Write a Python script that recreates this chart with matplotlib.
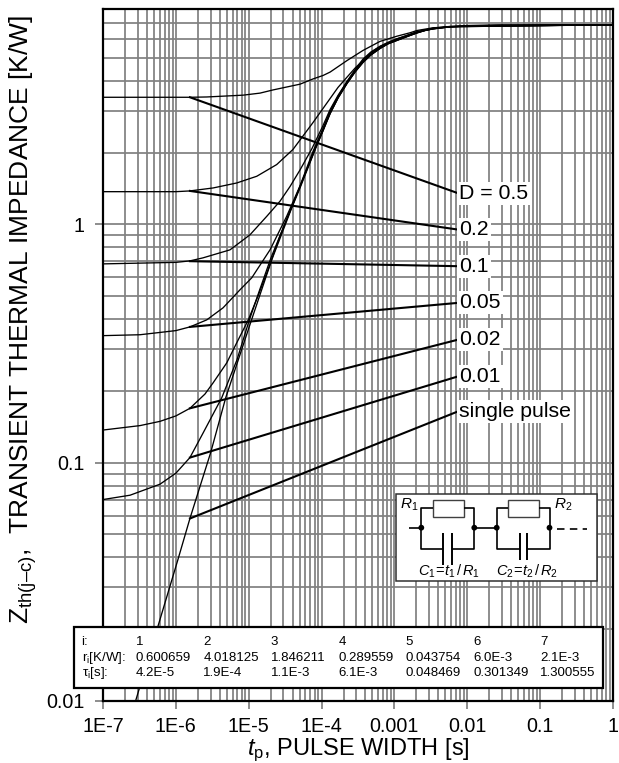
import matplotlib
matplotlib.use("Agg")
import matplotlib.pyplot as plt
from matplotlib.patches import Rectangle, Circle

plt.rcParams["font.family"] = "Liberation Sans"
plt.rcParams["mathtext.fontset"] = "custom"
plt.rcParams["mathtext.rm"] = "Liberation Sans"
plt.rcParams["mathtext.it"] = "Liberation Sans:italic"

# thin curves: pulse width [s], Zth [K/W]
t_d50 = [1e-7, 1.56e-6, 2.65e-6, 8.34e-6, 1.43e-5, 2.15e-5, 3.25e-5, 5.06e-5, 7.62e-5, 1.05e-4, 1.31e-4, 2.23e-4, 3.7e-4, 6.34e-4, 1.08e-3, 1.64e-3, 2.04e-3, 3.38e-3, 9.9e-3, 2.81e-2, 1.0]
z_d50 = [3.41, 3.41, 3.42, 3.48, 3.55, 3.66, 3.76, 3.87, 4.07, 4.21, 4.35, 4.86, 5.36, 5.85, 6.15, 6.36, 6.5, 6.67, 6.82, 6.86, 6.87]

t_d20 = [1e-7, 1.0e-6, 1.56e-6, 3.24e-6, 6.84e-6, 1.29e-5, 2.42e-5, 4.05e-5, 7.62e-5, 1.31e-4, 1.68e-4, 2.31e-4, 2.88e-4, 3.7e-4, 4.76e-4, 6.34e-4, 1.08e-3, 2.04e-3, 3.38e-3, 9.9e-3, 1.0]
z_d20 = [1.37, 1.37, 1.38, 1.42, 1.49, 1.59, 1.78, 2.06, 2.67, 3.37, 3.75, 4.19, 4.52, 4.86, 5.26, 5.57, 5.99, 6.41, 6.63, 6.81, 6.87]

t_d10 = [1e-7, 1.0e-6, 1.56e-6, 2.36e-6, 5.53e-6, 1.04e-5, 1.77e-5, 2.69e-5, 3.69e-5, 5.06e-5, 7.39e-5, 1.05e-4, 1.31e-4, 1.68e-4, 2.23e-4, 2.88e-4, 3.7e-4, 4.76e-4, 6.34e-4, 8.17e-4, 1.08e-3, 1.49e-3, 2.04e-3, 3.38e-3, 5.79e-3, 1.0]
z_d10 = [0.682, 0.692, 0.702, 0.723, 0.781, 0.903, 1.08, 1.25, 1.44, 1.69, 2.08, 2.6, 3.03, 3.47, 3.97, 4.45, 4.93, 5.28, 5.58, 5.8, 6.0, 6.2, 6.42, 6.65, 6.76, 6.87]

t_d05 = [1e-7, 3.22e-7, 1.0e-6, 1.56e-6, 2.65e-6, 4.44e-6, 7.59e-6, 1.1e-5, 1.96e-5, 3.32e-5, 5.06e-5, 7.62e-5, 1.05e-4, 1.31e-4, 1.68e-4, 2.23e-4, 2.88e-4, 3.7e-4, 4.76e-4, 6.34e-4, 8.17e-4, 1.08e-3, 1.49e-3, 2.04e-3, 3.38e-3, 5.79e-3, 1.0]
z_d05 = [0.341, 0.344, 0.358, 0.371, 0.397, 0.446, 0.531, 0.596, 0.781, 1.08, 1.45, 2.02, 2.53, 2.98, 3.44, 3.96, 4.42, 4.84, 5.2, 5.52, 5.76, 5.94, 6.16, 6.38, 6.62, 6.75, 6.87]

t_d02 = [1e-7, 3.22e-7, 6.06e-7, 1.0e-6, 1.56e-6, 2.51e-6, 3.24e-6, 4.99e-6, 6.84e-6, 9.87e-6, 1.34e-5, 1.84e-5, 2.69e-5, 3.89e-5, 5.06e-5, 8.38e-5, 1.05e-4, 1.31e-4, 1.68e-4, 2.23e-4, 2.88e-4, 3.7e-4, 4.76e-4, 6.34e-4, 8.17e-4, 1.08e-3, 1.49e-3, 2.04e-3, 2.62e-3, 3.38e-3, 5.79e-3, 1.0]
z_d02 = [0.137, 0.143, 0.149, 0.157, 0.169, 0.194, 0.216, 0.262, 0.318, 0.397, 0.5, 0.644, 0.895, 1.18, 1.44, 2.12, 2.49, 2.93, 3.4, 3.91, 4.37, 4.79, 5.15, 5.48, 5.73, 5.92, 6.14, 6.36, 6.51, 6.61, 6.74, 6.87]

t_d01 = [1e-7, 2.35e-7, 6.06e-7, 1.0e-6, 1.56e-6, 2.36e-6, 4.26e-6, 6.9e-6, 1.02e-5, 1.43e-5, 2.02e-5, 3.89e-5, 8.38e-5, 1.05e-4, 1.31e-4, 1.68e-4, 2.23e-4, 2.88e-4, 3.7e-4, 4.76e-4, 6.34e-4, 8.17e-4, 1.08e-3, 1.49e-3, 2.04e-3, 2.62e-3, 3.38e-3, 5.79e-3, 1.0]
z_d01 = [0.07, 0.073, 0.0812, 0.0903, 0.105, 0.133, 0.187, 0.27, 0.397, 0.536, 0.723, 1.18, 2.11, 2.48, 2.92, 3.39, 3.9, 4.36, 4.78, 5.14, 5.47, 5.72, 5.91, 6.13, 6.35, 6.5, 6.6, 6.74, 6.87]

t_single = [2.8e-7, 1.06e-6, 1.56e-6, 3.0e-6, 4.83e-6, 1.06e-5, 2.07e-5, 3.89e-5, 5.06e-5, 8.38e-5, 1.05e-4, 1.31e-4, 1.68e-4, 2.23e-4, 2.88e-4, 3.7e-4, 4.76e-4, 6.34e-4, 8.17e-4, 1.08e-3, 1.49e-3, 2.04e-3, 2.62e-3, 3.38e-3, 5.79e-3, 9.9e-3, 2.81e-2, 1.87e-1, 1.0]
z_single = [0.01, 0.0389, 0.0583, 0.11, 0.187, 0.386, 0.709, 1.17, 1.42, 2.1, 2.47, 2.91, 3.38, 3.89, 4.35, 4.77, 5.13, 5.46, 5.71, 5.9, 6.13, 6.35, 6.5, 6.6, 6.74, 6.78, 6.84, 6.87, 6.87]

# thick straight parts, from the knee to the label
t_knee = 1.56e-6
t_end = 7.45e-3
z_knee = [3.41, 1.38, 0.70, 0.371, 0.169, 0.105, 0.0583]
z_end = [1.35, 0.95, 0.667, 0.468, 0.328, 0.23, 0.164]
d_labels = ["D = 0.5", "0.2", "0.1", "0.05", "0.02", "0.01", "single pulse"]

x_ticks = [1e-7, 1e-6, 1e-5, 1e-4, 1e-3, 1e-2, 1e-1, 1]
x_ticklabels = ["1E-7", "1E-6", "1E-5", "1E-4", "0.001", "0.01", "0.1", "1"]
y_ticks = [0.01, 0.1, 1]
y_ticklabels = ["0.01", "0.1", "1"]

# foster table
table_head = ["i:", "r$_{\\mathrm{i}}$[K/W]:", "τ$_{\\mathrm{i}}$[s]:"]
table_i = ["1", "2", "3", "4", "5", "6", "7"]
table_r = ["0.600659", "4.018125", "1.846211", "0.289559", "0.043754", "6.0E-3", "2.1E-3"]
table_tau = ["4.2E-5", "1.9E-4", "1.1E-3", "6.1E-3", "0.048469", "0.301349", "1.300555"]

W, H = 619, 763
fig = plt.figure(figsize=(W / 100, H / 100), dpi=100)
ax = fig.add_axes([103 / W, 1 - 701 / H, 510 / W, 692 / H])
ax.set_xscale("log")
ax.set_yscale("log")
ax.set_xlim(1e-7, 1)
ax.set_ylim(0.01, 8)

ax.set_axisbelow(True)
ax.grid(which="both", color="#808080", linewidth=1.25)
ax.minorticks_on()
ax.xaxis.set_minor_locator(matplotlib.ticker.LogLocator(10, subs=range(2, 10), numticks=12))
ax.yaxis.set_minor_locator(matplotlib.ticker.LogLocator(10, subs=range(2, 10), numticks=12))
ax.xaxis.set_minor_formatter(matplotlib.ticker.NullFormatter())
ax.yaxis.set_minor_formatter(matplotlib.ticker.NullFormatter())
ax.set_xticks(x_ticks)
ax.set_xticklabels(x_ticklabels)
ax.set_yticks(y_ticks)
ax.set_yticklabels(y_ticklabels)
ax.tick_params(which="major", length=5.8, width=1.25, color="#808080", labelsize=14.2, pad=6)
ax.tick_params(axis="y", pad=7.5)
ax.tick_params(which="minor", length=0)

for s in ax.spines.values():
    s.set_linewidth(1.6)
    s.set_color("black")
    s.set_zorder(6)

thin = [(t_d50, z_d50), (t_d20, z_d20), (t_d10, z_d10), (t_d05, z_d05), (t_d02, z_d02), (t_d01, z_d01), (t_single, z_single)]
for t, z in thin:
    ax.plot(t, z, color="black", linewidth=0.95, zorder=3, solid_joinstyle="round")

for z0, z1, lab in zip(z_knee, z_end, d_labels):
    ax.plot([t_knee, t_end], [z0, z1], color="black", linewidth=1.5, zorder=4)
    ax.text(7.7e-3, z1, lab, fontsize=15.3, va="center", ha="left", zorder=5,
            bbox=dict(facecolor="white", edgecolor="none", pad=1.5))

ax.set_xlabel("$t_{\\mathrm{p}}$, PULSE WIDTH [s]", fontsize=17, va="baseline")
ax.xaxis.set_label_coords((358 - 103) / 510, -(755 - 701) / 692)
ax.set_ylabel("Z$_{\\mathrm{th(j\u2013c)}}$,  TRANSIENT THERMAL IMPEDANCE [K/W]", fontsize=19, va="center", ha="center")
ax.yaxis.set_label_coords((23 - 103) / 510, (701 - 319) / 692)

# overlay in pixel units for the table and the circuit sketch
ov = fig.add_axes([0, 0, 1, 1], zorder=10)
ov.set_xlim(0, W)
ov.set_ylim(H, 0)
ov.axis("off")

ov.add_patch(Rectangle((74, 627), 529, 61, facecolor="white", edgecolor="black", linewidth=1.6))
col_x = [136 + 67.4 * i for i in range(7)]
for y, head, row in zip([642, 657.7, 673.3], table_head, [table_i, table_r, table_tau]):
    ov.text(81.5, y, head, fontsize=9.5, va="center", ha="left")
    for x, val in zip(col_x, row):
        ov.text(x, y, val, fontsize=9.5, va="center", ha="left")

# circuit
ov.add_patch(Rectangle((396, 494), 201, 87, facecolor="white", edgecolor="#303030", linewidth=1.1))

def wire(xs, ys, lw=1.2, **kw):
    ov.plot(xs, ys, color="black", linewidth=lw, solid_capstyle="butt", **kw)

def rc_cell(x0, x1, r0, r1, c0, c1, y_cap_low):
    wire([x0, x0, r0], [527.7, 507.5, 507.5])
    wire([r1, x1, x1], [507.5, 507.5, 527.7])
    ov.add_patch(Rectangle((r0, 500), r1 - r0, 17.3, facecolor="white", edgecolor="#404040", linewidth=1.0))
    wire([x0, x0, c0], [527.7, 549, 549])
    wire([c1, x1, x1], [549, 549, 527.7])
    wire([c0, c0], [533.3, y_cap_low], lw=1.4)
    wire([c1, c1], [533.3, y_cap_low], lw=1.4)
    for xc in (x0, x1):
        ov.add_patch(Circle((xc, 527.7), 2.9, facecolor="black", edgecolor="none", zorder=5))

rc_cell(421.3, 474.3, 433.3, 464, 443.3, 452.3, 565)
rc_cell(496.7, 549.5, 508.3, 539.3, 520, 527.3, 560)
wire([409, 421.3], [527.7, 527.7])
wire([474.3, 496.7], [527.7, 527.7])
wire([556.7, 587], [529, 529], linestyle=(0, (4.5, 3.2)))

ov.text(400, 505, "$R_1$", fontsize=11, va="center", ha="left")
ov.text(554, 505, "$R_2$", fontsize=11, va="center", ha="left")
ov.text(449, 571, "$C_1\\!=\\!t_1\\,/\\,R_1$", fontsize=10.5, va="center", ha="center")
ov.text(527.5, 571, "$C_2\\!=\\!t_2\\,/\\,R_2$", fontsize=10.5, va="center", ha="center")

fig.savefig("out.png", dpi=100)
